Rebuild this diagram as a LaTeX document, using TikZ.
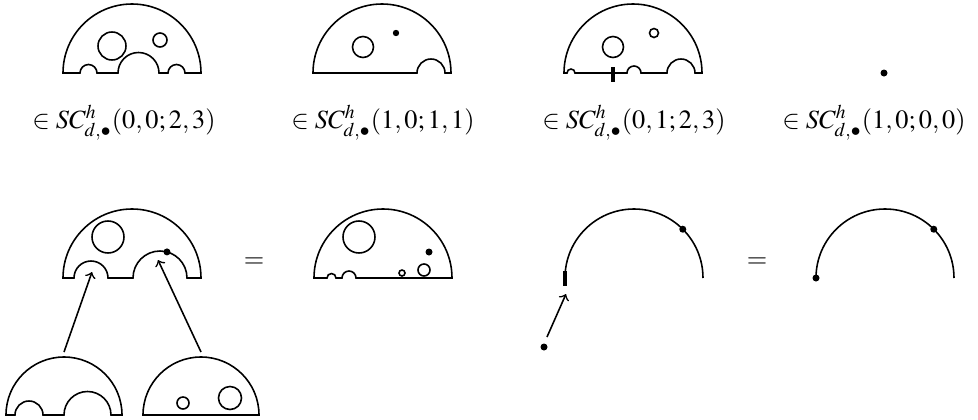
\documentclass[tikz,border=0pt]{standalone}
\usepackage{mathptmx}
\tikzset{
  outline/.style={line width=0.6pt},
  endmark/.style={line width=1.6pt},
  lbl/.style={anchor=base, inner sep=0pt}
}
\begin{document}
\begin{tikzpicture}[x=0.38pt,y=0.38pt,outline]
  \useasboundingbox (0,0) rectangle (978,419);
  % top row: four pieces and their labels
  % piece (0,0;2,3)
  \draw (63,346) arc (180:0:69) -- (185,346) arc (0:180:8.5)
    -- (159,346) arc (0:180:20.5) -- (97,346) arc (0:180:8.5) -- cycle;
  \draw (112,373) circle (14);
  \draw (160,379) circle (7);
  \node[lbl] (labA) at (124,291) {$\in SC^h_{d,\bullet}(0,0;2,3)$};
  % piece (1,0;1,1)
  \draw (313,346) arc (180:0:69) -- (445,346) arc (0:180:14) -- cycle;
  \draw (363,372) circle (10.5);
  \fill (396,386) circle (3.2);
  \node[lbl] (labB) at (383,291) {$\in SC^h_{d,\bullet}(1,0;1,1)$};
  % piece (0,1;2,3)
  \draw (564,346) arc (180:0:69) -- (695,346) arc (0:180:14)
    -- (641,346) arc (0:180:7) -- (575,346) arc (0:180:4) -- cycle;
  \draw (613,372) circle (10.5);
  \draw (654,386) circle (4.5);
  \draw[endmark] (613,352) -- (613,337);
  \node[lbl] (labC) at (634,291) {$\in SC^h_{d,\bullet}(0,1;2,3)$};
  % piece (1,0;0,0)
  \fill (884,346) circle (3.5);
  \node[lbl] (labD) at (874,291) {$\in SC^h_{d,\bullet}(1,0;0,0)$};

  % bottom left: gluing two pieces into the bites
  \draw (63,141) arc (180:0:69) -- (187,141) arc (0:180:27)
    -- (108,141) arc (0:180:17) -- cycle;
  \draw (108,182) circle (16);
  \fill (160,141) ++(75:27) circle (3.5);
  \draw (6,4) arc (180:0:58) -- (111,4) arc (0:180:23.5)
    -- (43,4) arc (0:180:14) -- cycle;
  \draw (201,4) ++(-58,0) arc (180:0:58) -- cycle;
  \draw (183,16) circle (6);
  \draw (230,21) circle (11.5);
  \coordinate (srcL) at (64,67);
  \coordinate (tgtL) at (92,147);
  \coordinate (srcR) at (201,67);
  \coordinate (tgtR) at (158,159);
  \draw[->] (srcL) -- (tgtL);
  \draw[->] (srcR) -- (tgtR);
  \node (eqA) at (254,156) {$=$};
  % result of the gluing
  \draw (314,141) arc (180:0:69) -- (356,141) arc (0:180:7)
    -- (336,141) arc (0:180:4.5) -- cycle;
  \draw (359,182) circle (16);
  \draw (402,146) circle (3);
  \draw (424,149) circle (6);
  \fill (429,167) circle (3.5);

  % bottom right: gluing a point onto the marked end
  \draw (565,141) arc (180:0:69);
  \fill (634,141) ++(45:69) circle (3.5);
  \draw[endmark] (565,148) -- (565,133);
  \fill (544,72) circle (3.5);
  \coordinate (srcP) at (547,82);
  \coordinate (tgtP) at (566,125);
  \draw[->] (srcP) -- (tgtP);
  \node (eqB) at (757,156) {$=$};
  \draw (816,141) arc (180:0:69);
  \fill (816,141) circle (3.5);
  \fill (885,141) ++(45:69) circle (3.5);
\end{tikzpicture}
\end{document}
